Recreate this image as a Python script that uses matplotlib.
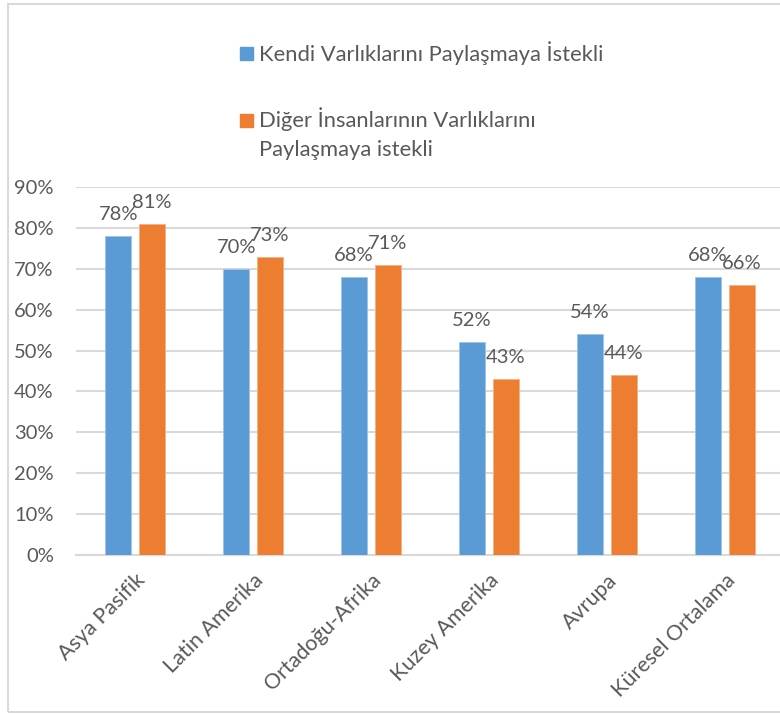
import matplotlib
matplotlib.use("Agg")
import matplotlib.pyplot as plt
from matplotlib.patches import Rectangle
import numpy as np

categories = ["Asya Pasifik", "Latin Amerika", "Ortadoğu-Afrika", "Kuzey Amerika", "Avrupa", "Küresel Ortalama"]
own_assets = [78, 70, 68, 52, 54, 68]
others_assets = [81, 73, 71, 43, 44, 66]
series_names = ["Kendi Varlıklarını Paylaşmaya İstekli",
                "Diğer İnsanlarının Varlıklarını\nPaylaşmaya istekli"]
yticks = [0, 10, 20, 30, 40, 50, 60, 70, 80, 90]

BLUE = "#5B9BD5"
ORANGE = "#ED7D31"
GRID = "#D9D9D9"
TXT = "#595959"
FONT = ["Lato", "DejaVu Sans"]
plt.rcParams['font.family'] = FONT

W, H = 780, 714
fig = plt.figure(figsize=(W / 100, H / 100), dpi=100)

# axes placement (pixels)
x0, x1 = 76, 784
y0, y90 = 555, 187
ax = fig.add_axes([x0 / W, 1 - y0 / H, (x1 - x0) / W, (y0 - y90) / H])
ax.set_xlim(-0.5, len(categories) - 0.5)
ax.set_ylim(0, 90)

x = np.arange(len(categories))
bw = 0.22
off = 0.143
b1 = ax.bar(x - off, own_assets, bw, color=BLUE, edgecolor="#9DC3E6", linewidth=0.6, zorder=3)
b2 = ax.bar(x + off, others_assets, bw, color=ORANGE, edgecolor="#F4B183", linewidth=0.6, zorder=3)

for bars, vals in ((b1, own_assets), (b2, others_assets)):
    for rect, v in zip(bars, vals):
        ax.annotate(f"{v}%", (rect.get_x() + rect.get_width() / 2, v),
                    xytext=(0, 13), textcoords="offset pixels",
                    ha="center", va="bottom", fontsize=14.5, color=TXT, zorder=4)

ax.set_yticks(yticks)
ax.set_yticklabels([f"{t}%" for t in yticks])
ax.yaxis.grid(True, color=GRID, linewidth=1.5, zorder=0)
ax.set_axisbelow(True)
for s in ("top", "right", "left"):
    ax.spines[s].set_visible(False)
ax.spines["bottom"].set_color(GRID)
ax.spines["bottom"].set_linewidth(1.5)
ax.tick_params(axis="y", length=0, pad=16, labelsize=14.5, labelcolor=TXT)
ax.tick_params(axis="x", length=0, pad=11, labelsize=15.5, labelcolor=TXT)
ax.set_xticks(x)
ax.set_xticklabels(categories, rotation=45, ha="right", va="top", rotation_mode="anchor")

# legend (manual, figure pixels)
def px(xp, yp):
    return xp / W, 1 - yp / H

fig.patches.append(Rectangle(px(240, 60), 13 / W, 13 / H, transform=fig.transFigure,
                             color=BLUE, figure=fig))
fig.text(*px(259, 53), series_names[0], ha="left", va="center", fontsize=15.8, color=TXT)
fig.patches.append(Rectangle(px(240, 127), 13 / W, 13 / H, transform=fig.transFigure,
                             color=ORANGE, figure=fig))
fig.text(*px(259, 107), series_names[1], ha="left", va="top", fontsize=15.8, color=TXT,
         linespacing=1.55)

# outer border
fig.patches.append(Rectangle(px(8, 712), (W + 10 - 8) / W, (712 - 4) / H,
                             transform=fig.transFigure, fill=False,
                             edgecolor=GRID, linewidth=1.5, figure=fig))

fig.savefig("out.png", dpi=100)
